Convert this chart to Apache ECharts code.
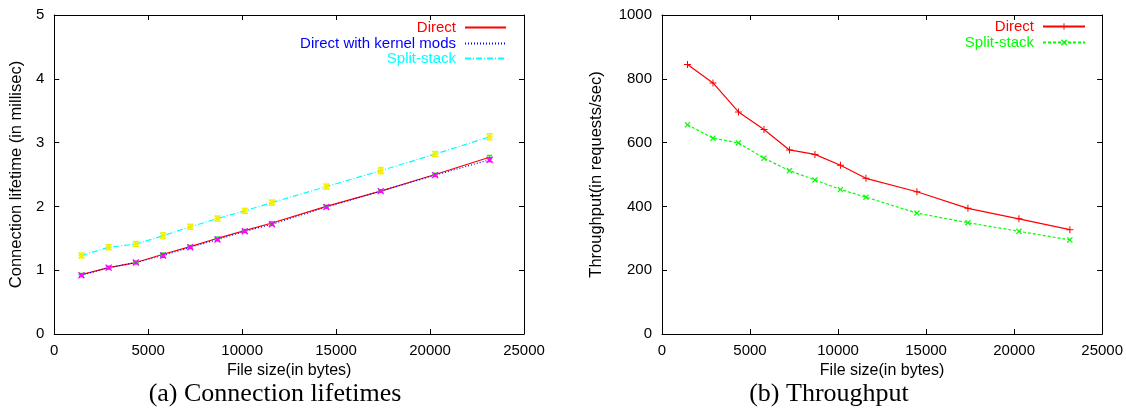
<!DOCTYPE html>
<html>
<head>
<meta charset="utf-8">
<script src="https://cdn.jsdelivr.net/npm/echarts@6/dist/echarts.min.js"></script>
<style>
body{margin:0;background:#fff}
#lifetime{position:absolute;left:0;top:0;width:580px;height:409px}
#throughput{position:absolute;left:580px;top:0;width:546px;height:409px}
</style>
</head>
<body>
<div id="lifetime"></div>
<div id="throughput"></div>
<script>
// file sizes (bytes) - same for both plots
var fileSizes = [1448, 2896, 4344, 5792, 7240, 8688, 10136, 11584, 14480, 17376, 20272, 23168];

// (a) connection lifetimes, millisec
var lifeDirect = [0.93, 1.04, 1.12, 1.25, 1.37, 1.50, 1.62, 1.74, 2.00, 2.24, 2.50, 2.77];
var lifeKernel = [0.92, 1.04, 1.12, 1.23, 1.36, 1.48, 1.61, 1.72, 1.99, 2.24, 2.49, 2.73];
var lifeSplit  = [1.23, 1.36, 1.41, 1.54, 1.68, 1.81, 1.93, 2.06, 2.31, 2.56, 2.82, 3.09];
// error bar half widths
var errDirect = [0.02, 0.02, 0.02, 0.02, 0.02, 0.02, 0.02, 0.02, 0.02, 0.02, 0.02, 0.03];
var errKernel = [0.02, 0.02, 0.02, 0.03, 0.02, 0.02, 0.02, 0.02, 0.02, 0.02, 0.02, 0.03];
var errSplit  = [0.04, 0.04, 0.04, 0.05, 0.04, 0.04, 0.04, 0.04, 0.04, 0.05, 0.04, 0.05];

// (b) throughput, requests/sec
var tputDirect = [845, 787, 696, 641, 577, 563, 529, 488, 446, 394, 361, 327];
var tputSplit  = [656, 614, 599, 551, 512, 483, 453, 429, 379, 349, 322, 295];

var FONT = 'Liberation Sans';
var PLUS = 'path://M3,0H4V3H7V4H4V7H3V4H0V3H3Z';
var CROSS = 'path://M0,1L1,0L3.5,2.5L6,0L7,1L4.5,3.5L7,6L6,7L3.5,4.5L1,7L0,6L2.5,3.5Z';
var NOSYM = 'path://M0,0L0.01,0.01';

function pairs(vals) {
    return fileSizes.map(function (x, i) { return [x, vals[i]]; });
}

function plain(v) { return String(v); }

// gnuplot style box: ticks inside on all four sides
function xAxes(name) {
    var base = {
        type: 'value', min: 0, max: 25000, interval: 5000,
        axisLine: {show: true, onZero: false, lineStyle: {color: '#000', width: 1}},
        axisTick: {show: true, inside: true, length: 5, lineStyle: {color: '#000'}},
        splitLine: {show: false}
    };
    return [
        Object.assign({}, base, {
            position: 'bottom',
            name: name, nameLocation: 'middle', nameGap: 28,
            nameTextStyle: {fontFamily: FONT, fontSize: 16, color: '#000'},
            axisLabel: {fontFamily: FONT, fontSize: 15, color: '#000', margin: 9, formatter: plain}
        }),
        Object.assign({}, base, {position: 'top', axisLabel: {show: false}})
    ];
}

function yAxes(max, interval, name, gap) {
    var base = {
        type: 'value', min: 0, max: max, interval: interval,
        axisLine: {show: true, onZero: false, lineStyle: {color: '#000', width: 1}},
        axisTick: {show: true, inside: true, length: 5, lineStyle: {color: '#000'}},
        splitLine: {show: false}
    };
    return [
        Object.assign({}, base, {
            position: 'left',
            name: name, nameLocation: 'middle', nameGap: gap,
            nameTextStyle: {fontFamily: FONT, fontSize: 16.5, color: '#000'},
            axisLabel: {fontFamily: FONT, fontSize: 15, color: '#000', margin: 10, formatter: plain}
        }),
        Object.assign({}, base, {position: 'right', axisLabel: {show: false}})
    ];
}

function legendItem(name, color, top, right, w) {
    return {
        data: [name], top: top, right: right, align: 'right', padding: 0,
        itemWidth: w, itemHeight: 8, selectedMode: false,
        textStyle: {fontFamily: FONT, fontSize: 15, color: color, padding: [0, 4, 0, 0]}
    };
}

// error bars with a point drawn in the middle
function errorSeries(vals, errs, color, shape) {
    return {
        type: 'custom', silent: true, z: 4,
        encode: {x: 0, y: 1},
        data: fileSizes.map(function (x, i) { return [x, vals[i], errs[i]]; }),
        renderItem: function (params, api) {
            var x = api.value(0), y = api.value(1), e = api.value(2);
            var p = api.coord([x, y]);
            var lo = api.coord([x, y - e]);
            var hi = api.coord([x, y + e]);
            var st = {stroke: color, lineWidth: 1.3};
            var c = [
                {type: 'line', shape: {x1: p[0], y1: lo[1], x2: p[0], y2: hi[1]}, style: st},
                {type: 'line', shape: {x1: p[0] - 2.5, y1: lo[1], x2: p[0] + 2.5, y2: lo[1]}, style: st},
                {type: 'line', shape: {x1: p[0] - 2.5, y1: hi[1], x2: p[0] + 2.5, y2: hi[1]}, style: st}
            ];
            var s = 3;
            if (shape === 'plus' || shape === 'star') {
                c.push({type: 'line', shape: {x1: p[0] - s, y1: p[1], x2: p[0] + s, y2: p[1]}, style: st});
            }
            if (shape === 'cross' || shape === 'star') {
                c.push({type: 'line', shape: {x1: p[0] - s, y1: p[1] - s, x2: p[0] + s, y2: p[1] + s}, style: st});
                c.push({type: 'line', shape: {x1: p[0] - s, y1: p[1] + s, x2: p[0] + s, y2: p[1] - s}, style: st});
            }
            return {type: 'group', children: c};
        }
    };
}

function lifetimeChart() {
    var myChart = echarts.init(document.getElementById('lifetime'));
    var option = {
        animation: false,
        title: {
            text: '(a) Connection lifetimes', left: 275, top: 380, textAlign: 'center', padding: 0,
            textStyle: {fontFamily: 'Liberation Serif', fontSize: 26, lineHeight: 28, fontWeight: 'normal', color: '#000'}
        },
        grid: {left: 52, top: 15, width: 472, height: 319},
        legend: [
            legendItem('Direct', '#ff0000', 20, 73, 41),
            legendItem('Direct with kernel mods', '#0000ff', 36, 73, 41),
            legendItem('Split-stack', '#00ffff', 51, 73, 41)
        ],
        xAxis: xAxes('File size(in bytes)'),
        yAxis: yAxes(5, 1, 'Connection lifetime (in millisec)', 27),
        series: [
            {
                name: 'Direct', type: 'line', symbol: NOSYM, showSymbol: false, z: 3,
                itemStyle: {color: '#ff0000'},
                lineStyle: {color: '#ff0000', width: 1.2},
                data: pairs(lifeDirect)
            },
            {
                name: 'Direct with kernel mods', type: 'line', symbol: NOSYM, showSymbol: false, z: 3,
                itemStyle: {color: '#0000ff'},
                lineStyle: {color: '#0000ff', width: 1.2, type: [1, 2]},
                data: pairs(lifeKernel)
            },
            {
                name: 'Split-stack', type: 'line', symbol: NOSYM, showSymbol: false, z: 3,
                itemStyle: {color: '#00ffff'},
                lineStyle: {color: '#00ffff', width: 1.2, type: [6, 2, 1, 2]},
                data: pairs(lifeSplit)
            },
            errorSeries(lifeDirect, errDirect, '#00ff00', 'plus'),
            errorSeries(lifeKernel, errKernel, '#ff00ff', 'cross'),
            errorSeries(lifeSplit, errSplit, '#f0f000', 'star')
        ]
    };
    myChart.setOption(option);
}

function throughputChart() {
    var myChart = echarts.init(document.getElementById('throughput'));
    var option = {
        animation: false,
        title: {
            text: '(b) Throughput', left: 249, top: 380, textAlign: 'center', padding: 0,
            textStyle: {fontFamily: 'Liberation Serif', fontSize: 26, lineHeight: 28, fontWeight: 'normal', color: '#000'}
        },
        grid: {left: 79, top: 15, width: 444, height: 319},
        legend: [
            legendItem('Direct', '#ff0000', 19, 40, 42),
            legendItem('Split-stack', '#00ff00', 35, 40, 42)
        ],
        xAxis: xAxes('File size(in bytes)'),
        yAxis: yAxes(1000, 200, 'Throughput(in requests/sec)', 57),
        series: [
            {
                name: 'Direct', type: 'line', symbol: PLUS, symbolSize: 7,
                itemStyle: {color: '#ff0000'},
                lineStyle: {color: '#ff0000', width: 1.2},
                data: pairs(tputDirect)
            },
            {
                name: 'Split-stack', type: 'line', symbol: CROSS, symbolSize: 6,
                itemStyle: {color: '#00ff00'},
                lineStyle: {color: '#00ff00', width: 1.2, type: [3, 2]},
                data: pairs(tputSplit)
            }
        ]
    };
    myChart.setOption(option);
}

lifetimeChart();
throughputChart();
</script>
</body>
</html>
